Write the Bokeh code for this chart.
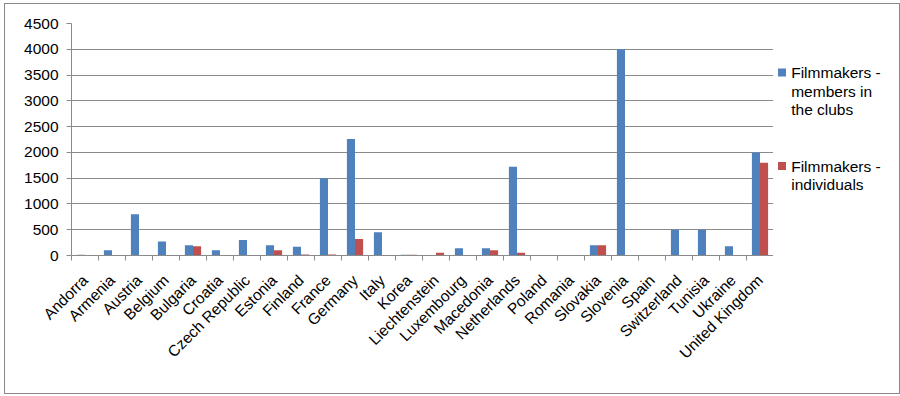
from bokeh.plotting import figure
from bokeh.models import FixedTicker, Range1d, ColumnDataSource
from bokeh.core.properties import value
from bokeh.layouts import row
from bokeh.embed import file_html
from bokeh.resources import INLINE
import math

countries = ["Andorra", "Armenia", "Austria", "Belgium", "Bulgaria", "Croatia",
             "Czech Republic", "Estonia", "Finland", "France", "Germany", "Italy",
             "Korea", "Liechtenstein", "Luxembourg", "Macedonia", "Netherlands",
             "Poland", "Romania", "Slovakia", "Slovenia", "Spain", "Switzerland",
             "Tunisia", "Ukraine", "United Kingdom"]
members_in_clubs = [15, 100, 800, 270, 200, 100, 300, 200, 170, 1500, 2260, 450, 15,
                    0, 140, 140, 1720, 0, 0, 200, 4000, 0, 500, 500, 180, 2000]
individuals = [0, 0, 0, 0, 180, 0, 0, 100, 20, 20, 320, 0, 15,
               55, 0, 100, 55, 0, 0, 200, 0, 0, 10, 0, 0, 1800]
y_ticks = [0, 500, 1000, 1500, 2000, 2500, 3000, 3500, 4000, 4500]
series_names = ["Filmmakers -\nmembers in\nthe clubs", "Filmmakers -\nindividuals"]

BLUE = "#4F81BD"
RED = "#C0504D"
GRAY = "#8a8a8a"
FONT = "Liberation Sans"
FS = "15.5px"
BORDER_TOP, BORDER_BOTTOM = 19, 138
HEIGHT = 389

idx = list(range(len(countries)))
src = ColumnDataSource(dict(
    xb=[i - 0.15 for i in idx],
    xr=[i + 0.15 for i in idx],
    clubs=members_in_clubs,
    ind=individuals,
))

p = figure(width=768, height=HEIGHT,
           x_range=Range1d(-0.5, len(countries) - 0.5),
           y_range=Range1d(0, 4500),
           output_backend="svg", toolbar_location=None,
           min_border_left=66, min_border_top=BORDER_TOP, min_border_bottom=BORDER_BOTTOM,
           min_border_right=0)
p.outline_line_color = None
p.background_fill_color = "white"
p.border_fill_color = "white"

rb = p.vbar(x="xb", top="clubs", width=0.3, source=src, fill_color=BLUE, line_color=None)
rr = p.vbar(x="xr", top="ind", width=0.3, source=src, fill_color=RED, line_color=None)

# x axis: labels at category centres, tick marks at category boundaries
p.xaxis.ticker = FixedTicker(ticks=idx, minor_ticks=[i - 0.5 for i in range(len(countries) + 1)])
p.xaxis.major_label_overrides = {i: c for i, c in enumerate(countries)}
p.xaxis.major_label_orientation = math.pi / 4
p.xaxis.major_tick_line_color = None
p.xaxis.major_tick_out = 5
p.xaxis.minor_tick_line_color = GRAY
p.xaxis.minor_tick_out = 5
p.xaxis.minor_tick_in = 0
p.xaxis.axis_line_color = GRAY
p.xaxis.major_label_text_font = FONT
p.xaxis.major_label_text_font_size = FS
p.xaxis.major_label_text_color = "black"
p.xaxis.major_label_standoff = 17

p.yaxis.ticker = FixedTicker(ticks=y_ticks)
p.yaxis.minor_tick_line_color = None
p.yaxis.major_tick_line_color = GRAY
p.yaxis.major_tick_out = 5
p.yaxis.major_tick_in = 0
p.yaxis.axis_line_color = GRAY
p.yaxis.major_label_text_font = FONT
p.yaxis.major_label_text_font_size = FS
p.yaxis.major_label_text_color = "black"
p.yaxis.major_label_standoff = 8

p.xgrid.grid_line_color = None
p.ygrid.ticker = FixedTicker(ticks=y_ticks)
p.ygrid.grid_line_color = GRAY
p.ygrid.grid_line_width = 1

# legend panel: a small figure in pixel-like units (y downward) to the right of the chart;
# its frame is aligned with the chart frame, so the y range covers the same pixel rows
lf = figure(width=126, height=HEIGHT, x_range=Range1d(0, 126),
            y_range=Range1d(HEIGHT - BORDER_BOTTOM, BORDER_TOP),
            output_backend="svg", toolbar_location=None,
            x_axis_type=None, y_axis_type=None,
            min_border_left=0, min_border_right=0,
            min_border_top=BORDER_TOP, min_border_bottom=BORDER_BOTTOM)
lf.outline_line_color = None
lf.grid.visible = False
lf.background_fill_color = "white"
lf.border_fill_color = "white"

legend_colors = [BLUE, RED]
entry_top = [68, 161.5]      # marker centre of each legend entry (px from top)
line_step = 18.3
marker_x, text_x, base_off = 8.5, 17.7, 0.2
mk_x, mk_y, mk_c, tx_x, tx_y, tx_t = [], [], [], [], [], []
for name, col, top in zip(series_names, legend_colors, entry_top):
    mk_x.append(marker_x)
    mk_y.append(top)
    mk_c.append(col)
    for k, line in enumerate(name.split("\n")):
        tx_x.append(text_x)
        tx_y.append(top + base_off + k * line_step)
        tx_t.append(line)
lf.scatter(x=mk_x, y=mk_y, marker="square", size=8, fill_color=mk_c, line_color=None)
lf.text(x=tx_x, y=tx_y, text=tx_t, text_font=value(FONT), text_font_size=FS,
        text_color="black", text_baseline="alphabetic", text_align="left")

layout = row(p, lf, styles={"border": "1px solid " + GRAY, "margin-left": "4px", "margin-top": "3px"})

open("out.html", "w").write(file_html(layout, INLINE))
